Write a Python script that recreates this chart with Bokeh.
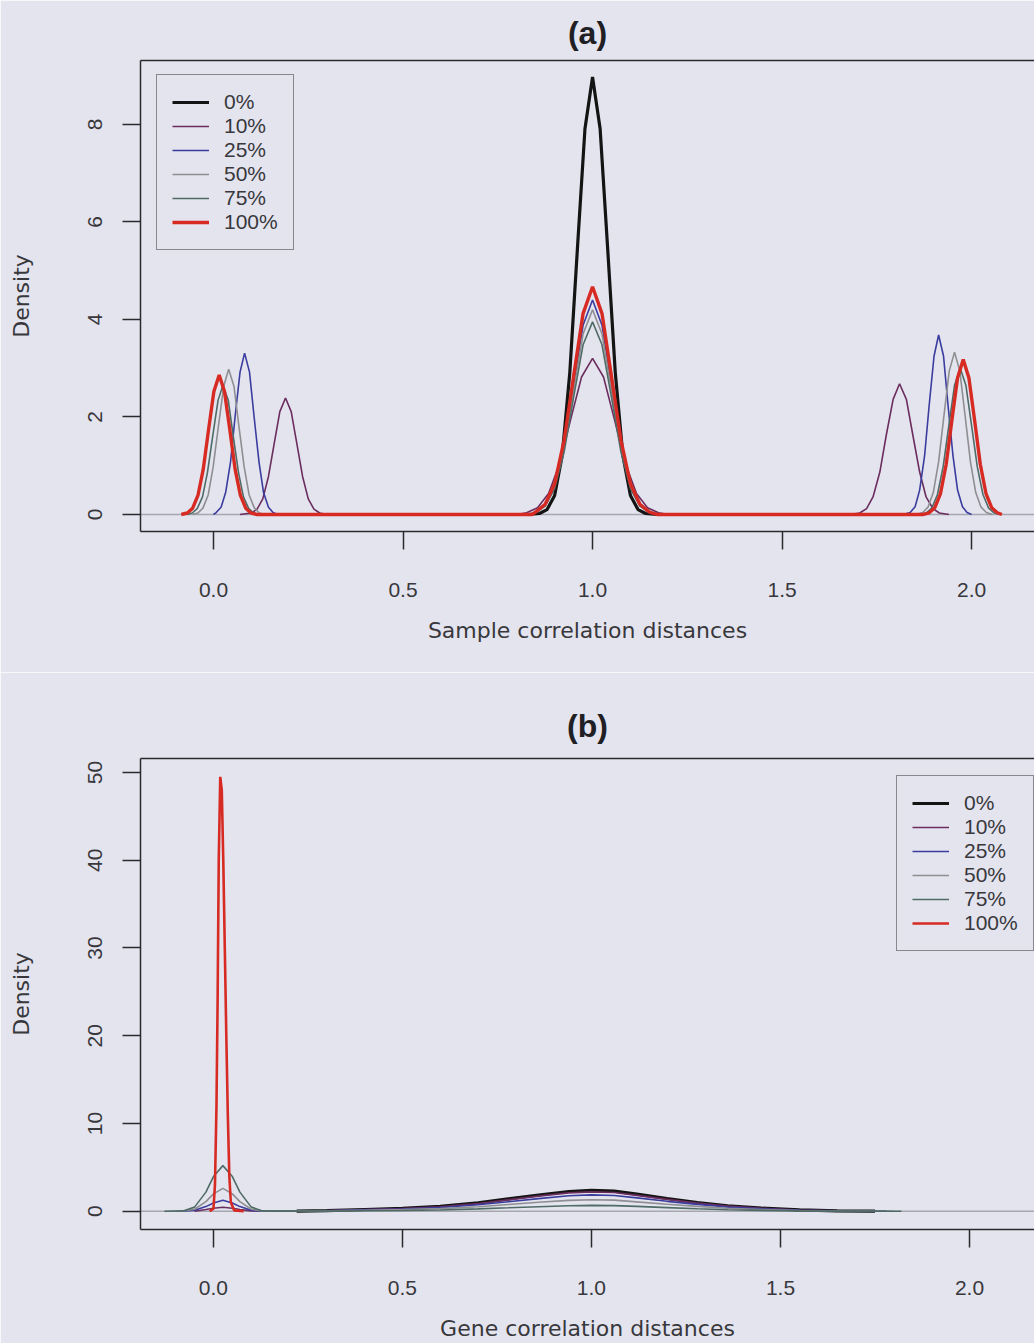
from bokeh.plotting import figure
from bokeh.layouts import column
from bokeh.models import Legend, LegendItem, LinearAxis, FixedTicker, Span, Range1d
from bokeh.embed import file_html
from bokeh.resources import INLINE

# ---- series definitions -------------------------------------------------
LABELS = ["0%", "10%", "25%", "50%", "75%", "100%"]
COLORS = ["#141414", "#6b2d5e", "#3a3c9e", "#8e8e92", "#4f6b66", "#d62a22"]
WIDTHS = [3.2, 1.6, 1.6, 1.6, 1.6, 3.4]

X_TICKS = [0, 0.5, 1, 1.5, 2]
X_TICK_LABELS = ["0.0", "0.5", "1.0", "1.5", "2.0"]
A_Y_TICKS = [0, 2, 4, 6, 8]
B_Y_TICKS = [0, 10, 20, 30, 40, 50]

# (a) sample correlation distances: density curves
A_X_00 = [0.83, 0.86, 0.88, 0.90, 0.92, 0.94, 0.96, 0.98, 1.00, 1.02, 1.04, 1.06, 1.08, 1.10, 1.12, 1.14, 1.17]
A_Y_00 = [0.0, 0.02, 0.10, 0.39, 1.21, 2.91, 5.44, 7.91, 8.97, 7.91, 5.44, 2.91, 1.21, 0.39, 0.10, 0.02, 0.0]

A_X_10 = [0.07, 0.10, 0.115, 0.13, 0.145, 0.16, 0.175, 0.19, 0.205, 0.22, 0.235, 0.25, 0.265, 0.28, 0.30,
          0.80, 0.826, 0.855, 0.884, 0.913, 0.942, 0.971, 1.0, 1.029, 1.058, 1.087, 1.116, 1.145, 1.174, 1.20,
          1.68, 1.705, 1.723, 1.740, 1.758, 1.775, 1.793, 1.810, 1.828, 1.845, 1.863, 1.880, 1.898, 1.915, 1.94]
A_Y_10 = [0.0, 0.03, 0.11, 0.32, 0.78, 1.45, 2.11, 2.39, 2.11, 1.45, 0.78, 0.32, 0.11, 0.03, 0.0,
          0.0, 0.035, 0.14, 0.43, 1.04, 1.94, 2.82, 3.2, 2.82, 1.94, 1.04, 0.43, 0.14, 0.035, 0.0,
          0.0, 0.03, 0.12, 0.36, 0.87, 1.63, 2.36, 2.68, 2.36, 1.63, 0.87, 0.36, 0.12, 0.03, 0.0]

A_X_25 = [0.0, 0.007, 0.020, 0.032, 0.045, 0.057, 0.070, 0.082, 0.095, 0.107, 0.120, 0.132, 0.145, 0.157, 0.17,
          0.84, 0.85, 0.875, 0.90, 0.925, 0.95, 0.975, 1.0, 1.025, 1.05, 1.075, 1.10, 1.125, 1.15, 1.17,
          1.82, 1.838, 1.851, 1.863, 1.876, 1.888, 1.901, 1.913, 1.926, 1.938, 1.951, 1.963, 1.976, 1.988, 2.0]
A_Y_25 = [0.0, 0.04, 0.15, 0.45, 1.08, 2.01, 2.92, 3.31, 2.92, 2.01, 1.08, 0.45, 0.15, 0.04, 0.0,
          0.0, 0.05, 0.19, 0.59, 1.43, 2.67, 3.88, 4.4, 3.88, 2.67, 1.43, 0.59, 0.19, 0.05, 0.0,
          0.0, 0.04, 0.16, 0.50, 1.20, 2.23, 3.25, 3.68, 3.25, 2.23, 1.20, 0.50, 0.16, 0.04, 0.0]

A_X_50 = [-0.055, -0.041, -0.028, -0.014, -0.001, 0.013, 0.027, 0.040, 0.054, 0.067, 0.081, 0.094, 0.108, 0.121, 0.135,
          0.84, 0.85, 0.875, 0.90, 0.925, 0.95, 0.975, 1.0, 1.025, 1.05, 1.075, 1.10, 1.125, 1.15, 1.17,
          1.855, 1.871, 1.885, 1.899, 1.913, 1.927, 1.941, 1.955, 1.969, 1.983, 1.997, 2.011, 2.025, 2.039, 2.055]
A_Y_50 = [0.0, 0.03, 0.13, 0.40, 0.97, 1.81, 2.63, 2.98, 2.63, 1.81, 0.97, 0.40, 0.13, 0.03, 0.0,
          0.0, 0.05, 0.18, 0.57, 1.36, 2.55, 3.70, 4.2, 3.70, 2.55, 1.36, 0.57, 0.18, 0.05, 0.0,
          0.0, 0.04, 0.15, 0.45, 1.08, 2.02, 2.94, 3.33, 2.94, 2.02, 1.08, 0.45, 0.15, 0.04, 0.0]

A_X_75 = [-0.07, -0.056, -0.043, -0.029, -0.016, -0.002, 0.012, 0.025, 0.039, 0.052, 0.066, 0.079, 0.093, 0.106, 0.12,
          0.84, 0.85, 0.875, 0.90, 0.925, 0.95, 0.975, 1.0, 1.025, 1.05, 1.075, 1.10, 1.125, 1.15, 1.17,
          1.865, 1.88, 1.895, 1.91, 1.925, 1.94, 1.955, 1.97, 1.985, 2.0, 2.015, 2.03, 2.045, 2.06, 2.075]
A_Y_75 = [0.0, 0.03, 0.12, 0.36, 0.86, 1.61, 2.34, 2.65, 2.34, 1.61, 0.86, 0.36, 0.12, 0.03, 0.0,
          0.0, 0.04, 0.17, 0.53, 1.28, 2.40, 3.48, 3.95, 3.48, 2.40, 1.28, 0.53, 0.17, 0.04, 0.0,
          0.0, 0.03, 0.13, 0.41, 0.98, 1.82, 2.65, 3.0, 2.65, 1.82, 0.98, 0.41, 0.13, 0.03, 0.0]

A_X_100 = [-0.085, -0.069, -0.055, -0.041, -0.027, -0.013, 0.001, 0.015, 0.029, 0.043, 0.057, 0.071, 0.085, 0.099, 0.115,
           0.84, 0.85, 0.875, 0.90, 0.925, 0.95, 0.975, 1.0, 1.025, 1.05, 1.075, 1.10, 1.125, 1.15, 1.17,
           1.873, 1.888, 1.903, 1.918, 1.933, 1.948, 1.963, 1.978, 1.993, 2.008, 2.023, 2.038, 2.053, 2.068, 2.08]
A_Y_100 = [0.0, 0.03, 0.13, 0.39, 0.93, 1.74, 2.52, 2.86, 2.52, 1.74, 0.93, 0.39, 0.13, 0.03, 0.0,
           0.0, 0.05, 0.21, 0.63, 1.52, 2.83, 4.12, 4.67, 4.12, 2.83, 1.52, 0.63, 0.21, 0.05, 0.0,
           0.0, 0.035, 0.14, 0.43, 1.03, 1.93, 2.80, 3.18, 2.80, 1.93, 1.03, 0.43, 0.14, 0.035, 0.0]

# (b) gene correlation distances: density curves
B_X_00 = [0.22, 0.30, 0.40, 0.50, 0.60, 0.70, 0.78, 0.86, 0.94, 1.00, 1.06, 1.12, 1.20, 1.28, 1.36, 1.45, 1.55, 1.65, 1.75]
B_Y_00 = [0.02, 0.08, 0.2, 0.32, 0.55, 0.95, 1.4, 1.85, 2.25, 2.38, 2.3, 1.95, 1.45, 1.0, 0.62, 0.35, 0.15, 0.05, 0.01]

B_X_10 = [-0.05, -0.02, 0.0, 0.025, 0.05, 0.07, 0.10, 0.16,
          0.22, 0.30, 0.40, 0.50, 0.60, 0.70, 0.78, 0.86, 0.94, 1.00, 1.06, 1.12, 1.20, 1.28, 1.36, 1.45, 1.55, 1.65, 1.78]
B_Y_10 = [0.0, 0.19, 0.34, 0.45, 0.34, 0.19, 0.04, 0.02,
          0.03, 0.08, 0.19, 0.3, 0.51, 0.88, 1.3, 1.72, 2.09, 2.21, 2.14, 1.81, 1.35, 0.93, 0.58, 0.33, 0.14, 0.05, 0.0]

B_X_25 = [-0.08, -0.05, -0.02, 0.0, 0.025, 0.05, 0.07, 0.10, 0.13, 0.16,
          0.22, 0.30, 0.40, 0.50, 0.60, 0.70, 0.78, 0.86, 0.94, 1.00, 1.06, 1.12, 1.20, 1.28, 1.36, 1.45, 1.55, 1.65, 1.78]
B_Y_25 = [0.0, 0.11, 0.53, 0.95, 1.25, 0.95, 0.53, 0.11, 0.01, 0.01,
          0.02, 0.06, 0.16, 0.25, 0.43, 0.74, 1.09, 1.44, 1.76, 1.86, 1.79, 1.52, 1.13, 0.78, 0.48, 0.27, 0.12, 0.04, 0.0]

B_X_50 = [-0.10, -0.08, -0.05, -0.02, 0.0, 0.025, 0.05, 0.07, 0.10, 0.13, 0.16,
          0.22, 0.30, 0.40, 0.50, 0.60, 0.70, 0.78, 0.86, 0.94, 1.00, 1.06, 1.12, 1.20, 1.28, 1.36, 1.45, 1.55, 1.65, 1.80]
B_Y_50 = [0.0, 0.02, 0.23, 1.1, 1.98, 2.6, 1.98, 1.1, 0.23, 0.02, 0.01,
          0.01, 0.04, 0.11, 0.18, 0.3, 0.52, 0.77, 1.02, 1.24, 1.31, 1.27, 1.07, 0.8, 0.55, 0.34, 0.19, 0.08, 0.03, 0.0]

B_X_75 = [-0.13, -0.08, -0.05, -0.02, 0.0, 0.025, 0.05, 0.07, 0.10, 0.13, 0.16,
          0.22, 0.30, 0.40, 0.50, 0.60, 0.70, 0.78, 0.86, 0.94, 1.00, 1.06, 1.12, 1.20, 1.28, 1.36, 1.45, 1.55, 1.65, 1.82]
B_Y_75 = [0.0, 0.04, 0.47, 2.18, 3.95, 5.2, 3.95, 2.18, 0.47, 0.04, 0.01,
          0.01, 0.02, 0.06, 0.09, 0.15, 0.27, 0.39, 0.52, 0.63, 0.67, 0.64, 0.55, 0.41, 0.28, 0.17, 0.1, 0.04, 0.01, 0.0]

B_X_100 = [-0.01, 0.0, 0.004, 0.008, 0.011, 0.014, 0.018, 0.022, 0.026, 0.030, 0.034, 0.038, 0.042, 0.046, 0.055, 0.08]
B_Y_100 = [0.0, 0.3, 3.0, 12.0, 24.0, 40.0, 49.5, 48.0, 40.0, 30.0, 20.0, 11.0, 4.0, 1.0, 0.1, 0.0]

A_SERIES = [(A_X_00, A_Y_00), (A_X_10, A_Y_10), (A_X_25, A_Y_25),
            (A_X_50, A_Y_50), (A_X_75, A_Y_75), (A_X_100, A_Y_100)]
B_SERIES = [(B_X_00, B_Y_00), (B_X_10, B_Y_10), (B_X_25, B_Y_25),
            (B_X_50, B_Y_50), (B_X_75, B_Y_75), (B_X_100, B_Y_100)]

# ---- styling ------------------------------------------------------------
BG = "#e4e4ef"
INK = "#2a2a2e"
TEXT = "#38383c"
TICK_FONT = "Liberation Sans"
LABEL_FONT = "DejaVu Sans"


def panel(title, xlabel, series, yticks, xr, yr, height, top, bottom, legend_loc, widths,
          title_standoff):
    p = figure(width=1034, height=height,
               x_range=Range1d(*xr), y_range=Range1d(*yr),
               output_backend="svg", toolbar_location=None, tools="",
               min_border_left=140, min_border_right=0,
               min_border_top=top, min_border_bottom=bottom,
               background_fill_color=BG, border_fill_color=BG,
               outline_line_color=None)
    p.grid.visible = False

    p.title.text = title
    p.title.align = "center"
    p.title.text_font = TICK_FONT
    p.title.text_font_size = "32px"
    p.title.text_font_style = "bold"
    p.title.text_color = "#202024"
    p.title.standoff = title_standoff
    p.title.offset = 4

    xax = p.below[0]
    yax = p.left[0]

    # top edge of the box
    top_axis = LinearAxis(ticker=FixedTicker(ticks=[]), axis_line_color=INK, axis_line_width=1.5,
                          major_tick_line_color=None, minor_tick_line_color=None,
                          major_label_text_font_size="0px", major_label_standoff=0,
                          major_tick_out=0, major_tick_in=0)
    p.add_layout(top_axis, "above")

    for ax in (xax, yax):
        ax.axis_line_color = INK
        ax.axis_line_width = 1.5
        ax.major_tick_line_color = INK
        ax.major_tick_line_width = 1.5
        ax.major_tick_out = 18
        ax.major_tick_in = 0
        ax.minor_tick_line_color = None
        ax.major_label_text_font = TICK_FONT
        ax.major_label_text_font_size = "21px"
        ax.major_label_text_color = TEXT
        ax.axis_label_text_font = LABEL_FONT
        ax.axis_label_text_font_size = "22px"
        ax.axis_label_text_font_style = "normal"
        ax.axis_label_text_color = TEXT

    xax.ticker = FixedTicker(ticks=X_TICKS)
    xax.major_label_overrides = {t: s for t, s in zip(X_TICKS, X_TICK_LABELS)}
    xax.major_label_standoff = 33
    xax.axis_label = xlabel
    xax.axis_label_standoff = 18

    yax.ticker = FixedTicker(ticks=yticks)
    yax.major_label_orientation = "vertical"
    yax.major_label_standoff = 20
    yax.axis_label = "Density"
    yax.axis_label_standoff = 52

    p.add_layout(Span(location=0, dimension="width", line_color="#a6a6b0",
                      line_width=1.5, level="underlay"))

    items = []
    for (xs, ys), lab, col, w in zip(series, LABELS, COLORS, widths):
        r = p.line(xs, ys, line_color=col, line_width=w)
        items.append(LegendItem(label=lab, renderers=[r]))

    leg = Legend(items=items, location=legend_loc, margin=0, padding=15, spacing=0,
                 label_height=24, glyph_height=24, glyph_width=37, label_standoff=15,
                 label_width=52, label_text_font=TICK_FONT, label_text_font_size="21px",
                 label_text_color=TEXT, border_line_color=INK, border_line_width=1.5,
                 background_fill_color=BG, background_fill_alpha=1.0)
    p.add_layout(leg)
    return p


pa = panel("(a)", "Sample correlation distances", A_SERIES, A_Y_TICKS,
           (-0.1926, 2.166), (-0.349, 9.31), 672, 60, 141, (16, 281), WIDTHS, 20)
pb = panel("(b)", "Gene correlation distances", B_SERIES, B_Y_TICKS,
           (-0.193, 2.172), (-2.08, 51.59), 671, 86, 113, (756, 278),
           [3.2, 1.6, 1.6, 1.6, 1.6, 2.6], 30)

layout = column(pa, pb, spacing=0)
open("out.html", "w").write(file_html(layout, INLINE))
